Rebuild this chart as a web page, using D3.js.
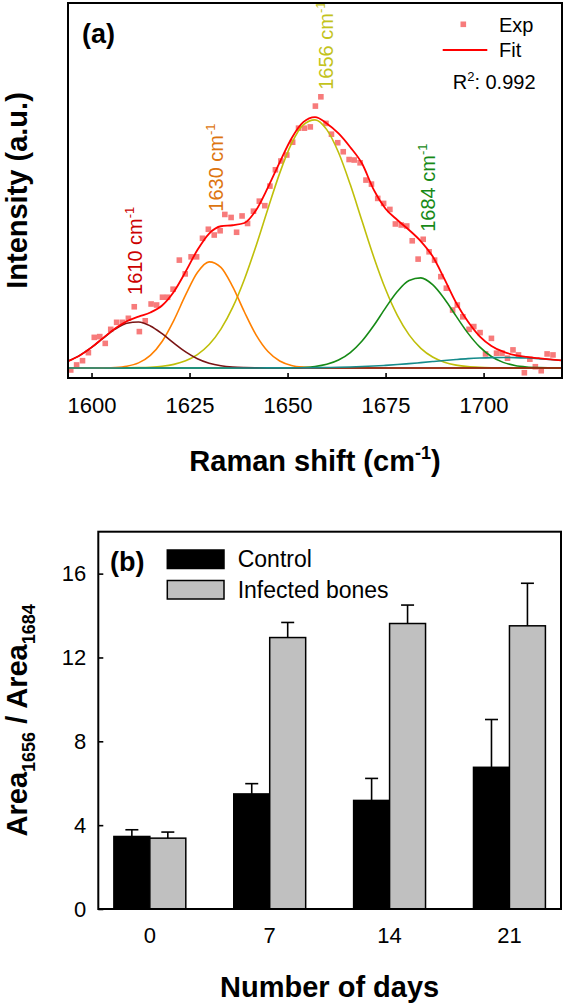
<!DOCTYPE html>
<html>
<head>
<meta charset="utf-8">
<script src="https://cdn.jsdelivr.net/npm/d3@7"></script>
<style>
  body { margin: 0; background: #fff; }
  svg { display: block; }
  text { font-family: "Liberation Sans", Arial, Helvetica, sans-serif; }
</style>
</head>
<body>
<svg id="chart" width="566" height="1006"></svg>
<script>
// ---------------- DATA: panel (a) ----------------
const gridShift = [1594,1597,1600,1603,1606,1609,1612,1615,1618,1621,1624,1627,1630,1633,1636,1639,1642,1645,1648,1651,1654,1657,1660,1663,1666,1669,1672,1675,1678,1681,1684,1687,1690,1693,1696,1699,1702,1705,1708,1711,1714,1717,1720];
const comp1610 = [2.72,5.00,8.19,11.92,15.46,17.83,18.32,16.76,13.65,9.90,6.39,3.67,1.88,0.86,0.35,0.13,0.04,0,0,0,0,0,0,0,0,0,0,0,0,0,0,0,0,0,0,0,0,0,0,0,0,0,0];
const comp1630 = [0,0,0,0.05,0.20,0.70,2.03,5.01,10.57,19.01,29.12,38.03,42.31,40.11,32.41,22.31,13.09,6.54,2.79,1.01,0.31,0.08,0,0,0,0,0,0,0,0,0,0,0,0,0,0,0,0,0,0,0,0,0];
const comp1656 = [0,0,0,0,0.02,0.05,0.13,0.30,0.68,1.44,2.85,5.33,9.36,15.49,24.13,35.39,48.86,63.49,77.67,89.43,96.94,98.92,95.01,85.90,73.11,58.58,44.17,31.36,20.96,13.19,7.81,4.35,2.28,1.13,0.52,0.23,0.09,0.03,0,0,0,0,0];
const comp1684 = [0,0,0,0,0,0,0,0,0,0,0,0,0,0,0,0,0,0,0,0.08,0.23,0.60,1.46,3.16,6.15,10.76,16.93,23.97,30.50,34.89,35.90,33.20,27.61,20.65,13.89,8.40,4.57,2.23,0.98,0.39,0.14,0.05,0.01];
const compBase = [0,0,0,0,0,0,0,0,0,0,0,0,0,0,0,0,0.01,0.02,0.03,0.05,0.08,0.12,0.18,0.28,0.40,0.57,0.78,1.05,1.36,1.73,2.13,2.55,2.97,3.36,3.71,3.97,4.14,4.20,4.14,3.97,3.71,3.36,2.97];
const fitValues = [2.7,5.0,8.2,12.0,15.7,18.6,20.5,22.1,24.9,30.4,38.4,47.0,53.6,56.5,56.9,57.8,63.0,72.0,82.0,91.5,98.0,100.0,97.5,93.5,88.0,81.5,71.0,63.5,59.0,55.0,50.5,44.5,35.5,26.0,18.5,12.6,8.8,6.5,5.1,4.4,3.9,3.4,3.0];
const expShift = [1594.7,1596.2,1597.7,1599.2,1600.7,1602.1,1603.5,1604.9,1606.4,1607.9,1609.4,1610.9,1612.2,1613.7,1615.2,1616.6,1618.1,1619.4,1620.8,1622.4,1623.9,1625.4,1626.8,1628.3,1629.8,1631.3,1632.8,1634.0,1635.6,1637.0,1638.4,1639.8,1641.3,1642.8,1644.2,1645.5,1646.9,1648.3,1649.8,1651.3,1652.8,1654.3,1655.8,1657.1,1658.5,1659.8,1661.2,1662.8,1664.2,1665.7,1667.0,1668.5,1670.0,1671.4,1673.0,1674.5,1676.1,1677.5,1679.0,1680.4,1681.8,1683.3,1684.6,1686.1,1687.5,1689.1,1690.5,1692.1,1693.3,1694.7,1696.3,1697.5,1699.1,1700.5,1702.0,1703.3,1704.7,1706.1,1707.5,1708.9,1710.4,1711.8,1713.2,1714.7,1716.2,1717.7];
const expIntensity = [-0.8,1.2,2.9,6.1,12.2,12.5,9.8,15.4,18.2,18.2,19.8,24.4,14.5,18.8,25.5,25.1,28.2,28.2,31.4,43.0,37.5,44.3,44.3,51.7,55.3,53.0,54.7,61.2,60.0,54.1,60.6,57.6,62.5,66.5,64.7,72.5,79.0,82.5,84.9,90.0,95.6,95.6,96.1,104.4,108.1,97.5,93.2,89.8,86.2,83.1,82.9,81.8,74.9,73.3,67.6,65.6,63.2,57.4,57.0,56.6,50.7,43.4,51.3,46.3,43.0,36.4,31.8,23.1,25.1,20.4,15.4,16.5,14.1,5.6,11.8,5.9,5.9,3.9,7.2,5.2,-1.9,3.5,0.5,-1.1,5.6,5.2];
const ramanTicks = [1600,1625,1650,1675,1700];
const peakNames = ["1610","1630","1656","1684"];
const rSquared = "0.992";

// ---------------- DATA: panel (b) ----------------
const days = ["0","7","14","21"];
const seriesNames = ["Control","Infected bones"];
const controlMean = [3.46,5.49,5.18,6.76];
const controlErr = [0.32,0.49,1.05,2.28];
const infectedMean = [3.38,12.95,13.62,13.51];
const infectedErr = [0.29,0.72,0.88,2.03];
const ratioTicks = [0,4,8,12,16];

// ---------------- DRAWING ----------------
const svg = d3.select("#chart");
const FONT = '"Liberation Sans", Arial, Helvetica, sans-serif';

// ===== Panel (a) =====
const A = {left: 68, right: 562, top: 3, bottom: 378};
const xA = d3.scaleLinear().domain([1594, 1720]).range([A.left, A.right]);
const yA = d3.scaleLinear().domain([-4, 145.5]).range([A.bottom, A.top]);

svg.append("defs").append("clipPath").attr("id", "clipA")
  .append("rect").attr("x", A.left).attr("y", A.top)
  .attr("width", A.right - A.left).attr("height", A.bottom - A.top);

const gA = svg.append("g");
const plotA = gA.append("g").attr("clip-path", "url(#clipA)");

// experimental points
const expData = expShift.map((s, i) => ({s, v: expIntensity[i]}));
plotA.selectAll("rect.exp").data(expData).join("rect")
  .attr("class", "exp")
  .attr("x", d => xA(d.s) - 2.8).attr("y", d => yA(d.v) - 2.8)
  .attr("width", 5.6).attr("height", 5.6)
  .attr("fill", "#f77b7b");

const lineA = d3.line().x((d, i) => xA(gridShift[i])).y(d => yA(d)).curve(d3.curveMonotoneX);
const comps = [
  {vals: comp1656, color: "#bfbf0a"},
  {vals: comp1684, color: "#168a16"},
  {vals: comp1630, color: "#ff8000"},
  {vals: comp1610, color: "#7a1515"},
  {vals: compBase, color: "#158b8b"}
];
comps.forEach(c => {
  plotA.append("path").datum(c.vals).attr("d", lineA)
    .attr("fill", "none").attr("stroke", c.color).attr("stroke-width", 1.6);
});
plotA.append("path").datum(fitValues).attr("d", lineA)
  .attr("fill", "none").attr("stroke", "#ff0000").attr("stroke-width", 1.8);

// peak labels (rotated)
const peakPos = [
  {s: 1612.8, v: 29.1, color: "#cc0000"},
  {s: 1633.5, v: 62.3, color: "#dd7510"},
  {s: 1661.7, v: 110.9, color: "#c3c31c"},
  {s: 1687.6, v: 54.3, color: "#178a17"}
];
peakNames.forEach((name, i) => {
  const p = peakPos[i];
  const t = gA.append("text")
    .attr("transform", `translate(${xA(p.s)},${yA(p.v)}) rotate(-90)`)
    .attr("fill", p.color).attr("font-size", 20);
  t.append("tspan").text(name + " cm");
  t.append("tspan").attr("dy", -8).attr("font-size", 13).text("-1");
});

// x axis ticks (inside) and labels
const axA = d3.axisBottom(xA).tickValues(ramanTicks).tickFormat(d3.format("d"))
  .tickSizeInner(-5).tickSizeOuter(0).tickPadding(19);
const gAx = gA.append("g").attr("transform", `translate(0,${A.bottom})`).call(axA);
gAx.select(".domain").remove();
gAx.selectAll(".tick line").attr("stroke", "#000").attr("stroke-width", 1.6);
gAx.selectAll(".tick text").attr("font-size", 22).attr("fill", "#000").attr("font-family", FONT);

// frame
gA.append("rect").attr("x", A.left).attr("y", A.top)
  .attr("width", A.right - A.left).attr("height", A.bottom - A.top)
  .attr("fill", "none").attr("stroke", "#000").attr("stroke-width", 2);

// panel tag
gA.append("text").attr("x", 82).attr("y", 42.5).attr("font-size", 27)
  .attr("font-weight", "bold").text("(a)");

// legend
gA.append("rect").attr("x", 460.5).attr("y", 21.5).attr("width", 5.6).attr("height", 5.6).attr("fill", "#f77b7b");
gA.append("text").attr("x", 499).attr("y", 31.7).attr("font-size", 20).text("Exp");
gA.append("line").attr("x1", 442.7).attr("x2", 487.3).attr("y1", 50).attr("y2", 50)
  .attr("stroke", "#ff0000").attr("stroke-width", 1.8);
gA.append("text").attr("x", 499).attr("y", 57.3).attr("font-size", 20).text("Fit");
const r2 = gA.append("text").attr("x", 452.7).attr("y", 89.3).attr("font-size", 20);
r2.append("tspan").text("R");
r2.append("tspan").attr("dy", -8).attr("font-size", 13).text("2");
r2.append("tspan").attr("dy", 8).text(": " + rSquared);

// axis titles
const tA = gA.append("text").attr("x", (A.left + A.right) / 2).attr("y", 471)
  .attr("text-anchor", "middle").attr("font-size", 29).attr("font-weight", "bold");
tA.append("tspan").text("Raman shift (cm");
tA.append("tspan").attr("dy", -12).attr("font-size", 18).text("-1");
tA.append("tspan").attr("dy", 12).text(")");

gA.append("text")
  .attr("transform", `translate(27,${(A.top + A.bottom) / 2}) rotate(-90)`)
  .attr("text-anchor", "middle").attr("font-size", 29).attr("font-weight", "bold")
  .text("Intensity (a.u.)");

// ===== Panel (b) =====
const B = {left: 98.3, right: 561, top: 531.7, bottom: 909};
const gB = svg.append("g");
const x0 = d3.scaleBand().domain(days).range([B.left, B.right]).paddingInner(0.4).paddingOuter(0.13);
const x1 = d3.scaleBand().domain(seriesNames).range([0, x0.bandwidth()]);
const yB = d3.scaleLinear().domain([0, 18]).range([B.bottom, B.top]);

const barData = [];
days.forEach((d, i) => {
  barData.push({day: d, series: seriesNames[0], v: controlMean[i], e: controlErr[i], fill: "#000"});
  barData.push({day: d, series: seriesNames[1], v: infectedMean[i], e: infectedErr[i], fill: "#c0c0c0"});
});

// error bars (upper only)
const eb = gB.selectAll("g.eb").data(barData).join("g").attr("class", "eb");
eb.append("line")
  .attr("x1", d => x0(d.day) + x1(d.series) + x1.bandwidth() / 2)
  .attr("x2", d => x0(d.day) + x1(d.series) + x1.bandwidth() / 2)
  .attr("y1", d => yB(d.v)).attr("y2", d => yB(d.v + d.e))
  .attr("stroke", "#000").attr("stroke-width", 1.6);
eb.append("line")
  .attr("x1", d => x0(d.day) + x1(d.series) + x1.bandwidth() / 2 - 6.5)
  .attr("x2", d => x0(d.day) + x1(d.series) + x1.bandwidth() / 2 + 6.5)
  .attr("y1", d => yB(d.v + d.e)).attr("y2", d => yB(d.v + d.e))
  .attr("stroke", "#000").attr("stroke-width", 1.6);

gB.selectAll("rect.bar").data(barData).join("rect").attr("class", "bar")
  .attr("x", d => x0(d.day) + x1(d.series))
  .attr("y", d => yB(d.v))
  .attr("width", x1.bandwidth())
  .attr("height", d => yB(0) - yB(d.v))
  .attr("fill", d => d.fill).attr("stroke", "#000").attr("stroke-width", 1.5);

// y axis
const ayB = d3.axisLeft(yB).tickValues(ratioTicks).tickSizeInner(-5).tickSizeOuter(0).tickPadding(12);
const gyB = gB.append("g").attr("transform", `translate(${B.left},0)`).call(ayB);
gyB.select(".domain").remove();
gyB.selectAll(".tick line").attr("stroke", "#000").attr("stroke-width", 1.6);
gyB.selectAll(".tick text").attr("font-size", 22).attr("fill", "#000").attr("font-family", FONT);

// x axis labels
const axB = d3.axisBottom(x0).tickSize(0).tickPadding(18.5);
const gxB = gB.append("g").attr("transform", `translate(0,${B.bottom})`).call(axB);
gxB.select(".domain").remove();
gxB.selectAll(".tick text").attr("font-size", 22).attr("fill", "#000").attr("font-family", FONT);

// frame
gB.append("rect").attr("x", B.left).attr("y", B.top)
  .attr("width", B.right - B.left).attr("height", B.bottom - B.top)
  .attr("fill", "none").attr("stroke", "#000").attr("stroke-width", 2);

// tag
gB.append("text").attr("x", 110).attr("y", 571).attr("font-size", 27)
  .attr("font-weight", "bold").text("(b)");

// legend
const legFills = ["#000", "#c0c0c0"];
seriesNames.forEach((n, i) => {
  gB.append("rect").attr("x", 167.3).attr("y", 550 + i * 30.5).attr("width", 56.7).attr("height", 18.5)
    .attr("fill", legFills[i]).attr("stroke", "#000").attr("stroke-width", 1.5);
  gB.append("text").attr("x", 237.7).attr("y", 566.7 + i * 31).attr("font-size", 23).text(n);
});

// axis titles
gB.append("text").attr("x", (B.left + B.right) / 2).attr("y", 996.5)
  .attr("text-anchor", "middle").attr("font-size", 29).attr("font-weight", "bold")
  .text("Number of days");

const tB = gB.append("text")
  .attr("transform", `translate(27,${(B.top + B.bottom) / 2}) rotate(-90)`)
  .attr("text-anchor", "middle").attr("font-size", 29).attr("font-weight", "bold");
tB.append("tspan").text("Area");
tB.append("tspan").attr("dy", 8).attr("font-size", 18).text("1656");
tB.append("tspan").attr("dy", -8).text(" / Area");
tB.append("tspan").attr("dy", 8).attr("font-size", 18).text("1684");
</script>
</body>
</html>
